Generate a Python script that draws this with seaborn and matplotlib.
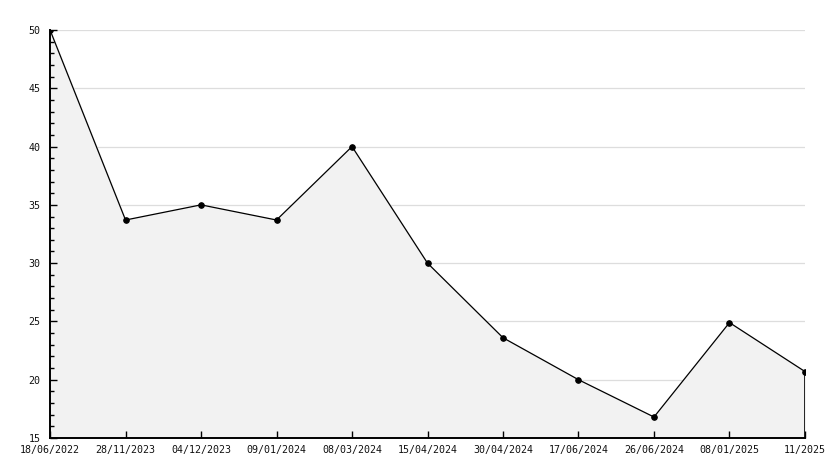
import matplotlib
matplotlib.use("Agg")
import matplotlib.pyplot as plt
import pandas as pd
import seaborn as sns
from matplotlib.ticker import MultipleLocator

dates = [
    "18/06/2022", "28/11/2023", "04/12/2023", "09/01/2024", "08/03/2024",
    "15/04/2024", "30/04/2024", "17/06/2024", "26/06/2024", "08/01/2025",
    "11/2025",
]
values = [50, 33.7, 35, 33.7, 40, 30, 23.6, 20, 16.8, 24.9, 20.7]
y_min, y_max = 15, 50

sns.set_style("white")
plt.rcParams["font.family"] = ["DejaVu Sans Mono", "DejaVu Sans"]

data = pd.DataFrame({"pos": range(len(dates)), "value": values})

fig = plt.figure(figsize=(8.34, 4.68), dpi=100)
ax = fig.add_axes([0.06, 0.0641, 0.9052, 0.8718])

ax.set_xlim(0, len(dates) - 1)
ax.set_ylim(y_min, y_max)
ax.yaxis.set_major_locator(MultipleLocator(5))
ax.yaxis.set_minor_locator(MultipleLocator(1))

# grid sits behind the filled area, ticks and spines sit above it
for level in ax.get_yticks():
    if y_min < level <= y_max:
        ax.axhline(level, color="#dddddd", linewidth=0.9, zorder=0.3)
ax.set_axisbelow("line")

ax.fill_between(data["pos"], data["value"], y_min, color="#f2f2f2", zorder=1)
sns.lineplot(data=data, x="pos", y="value", ax=ax, color="black", linewidth=0.9,
             marker="o", markersize=4, markeredgecolor="black", zorder=3)
ax.vlines(data["pos"].iloc[-1], y_min, data["value"].iloc[-1], color="black", linewidth=1.2, zorder=3)

ax.set_xticks(data["pos"])
ax.set_xticklabels(dates)

for side in ["top", "right"]:
    ax.spines[side].set_visible(False)
for side in ["left", "bottom"]:
    ax.spines[side].set_color("black")
    ax.spines[side].set_linewidth(1.4)

ax.tick_params(axis="both", which="both", left=True, bottom=True, direction="in", color="black")
ax.tick_params(axis="both", which="major", length=5, width=1,
               labelsize=7.2, labelcolor="#111111", pad=5)
ax.tick_params(axis="y", which="minor", length=3, width=1)
ax.tick_params(axis="y", which="major", pad=7)
ax.set_xlabel("")
ax.set_ylabel("")

fig.savefig("out.png", dpi=100)
